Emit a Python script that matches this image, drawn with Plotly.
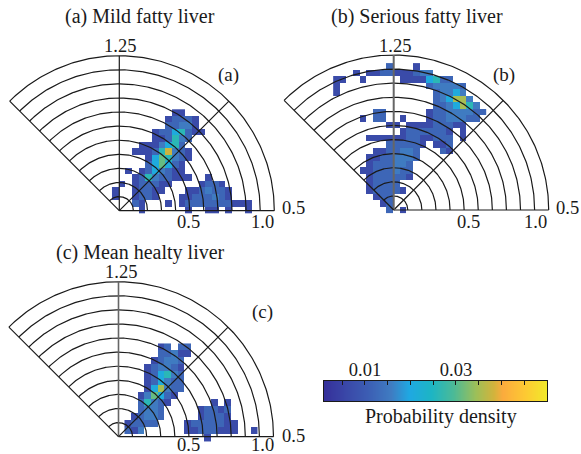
import numpy as np
import plotly.graph_objects as go

W, H = 581, 454
PX_PER_UNIT = 155 / 1.1
FONT = "Liberation Serif"
INK = "#1a1a1a"

# Density, as level digits; '.' = empty.
# row index -> (first column index, levels)
rows_a = {
    15: (8, "11"), 14: (7, "12221"), 13: (7, "22331"), 12: (5, "12245211"),
    11: (5, "112532"), 10: (3, "1113452"), 9: (2, "111258321"), 8: (4, "1465321"),
    7: (4, "246421"), 6: (1, "1.1243211"), 5: (2, "125322111..1"),
    4: (0, "1.122211....1221"), 3: (-1, "1..12211...1123221"),
    2: (-1, "1..1221...11222321"), 1: (2, "21...1.12222222111"),
    0: (3, "1......1..11.1..1"),
}
rows_b = {
    22: (-1, "2...1"), 21: (-6, "1.1122111233"), 20: (-9, "11..1.....11114522"),
    19: (-9, "1.............233332"), 18: (-9, "1..............23343"),
    17: (6, "234773"), 16: (6, "2234753"), 15: (-3, "22......122333322"),
    14: (-5, "1.22..1...12233322"), 13: (-1, "11.111122211"),
    12: (1, "12222221.1"), 11: (-4, "1111112211222.1"), 10: (-1, "222221.112"),
    9: (-3, "1122332...21"), 8: (-4, "11223332"), 7: (-4, "1222332"),
    6: (-5, "11222322"), 5: (-4, "1222221"), 4: (-4, "12222"), 3: (-4, "122221"),
    2: (-3, "122"), 1: (-2, "12"), 0: (-1, "2.1"),
}
rows_c = {
    13: (6, "12.22"), 12: (6, "22311"), 11: (5, "12332"), 10: (4, "123321"),
    9: (4, "124532"), 8: (4, "124322"), 7: (4, "147322"), 6: (3, "136421"),
    5: (3, "25321......1.1"), 4: (3, "2332.....12212"), 3: (2, "12332.....12221"),
    2: (1, "12222....12222211"), 1: (1, "213......11222111..1"), 0: (13, "1"),
}
# density for each level digit 0..8
level_values = [0.0, 0.0065, 0.012, 0.0155, 0.0205, 0.026, 0.031, 0.035, 0.0378]

arc_radii = [0.1 * i for i in range(1, 12)]
spoke_angles = [0, 45, 90, 135]
bar_ticks = [0.005, 0.01, 0.015, 0.02, 0.025, 0.03, 0.035, 0.04, 0.045]
bar_labels = ["", "0.01", "", "", "", "0.03", "", "", ""]
bar_min, bar_max = 0.001, 0.05

colorscale = [
    [0.00, "#35309a"], [0.10, "#3a48a8"], [0.20, "#3c5fb4"], [0.30, "#3f7cc2"],
    [0.38, "#1fa8e2"], [0.48, "#1db5c4"], [0.58, "#4cba96"], [0.68, "#9dbf58"],
    [0.76, "#d2b33c"], [0.80, "#fbab3d"], [0.90, "#fdc933"], [1.00, "#f1ea2a"],
]

# name, rows, origin px, x-cell px, y-cell px, column offset px, row offset px, vertical colour/width
panels = [
    ("", rows_a, (119.3, 210.7), 6.65, 6.5, -0.67, 0.65, INK, 1.2),
    ("2", rows_b, (393.7, 210.0), 6.65, 6.5, -0.67, 0.65, "#666666", 2.0),
    ("3", rows_c, (118.5, 436.7), 6.65, 6.97, -0.67, -0.85, "#666666", 1.6),
]

fig = go.Figure()
layout_axes = {}
for name, rows, (ox, oy), cw, ch, cx0, cy0, vcol, vw in panels:
    left, right, top, bottom = ox - 115, ox + 158, oy - 160, oy + 13
    layout_axes[f"xaxis{name}"] = dict(
        domain=[left / W, right / W], visible=False, fixedrange=True,
        range=[(left - ox) / PX_PER_UNIT, (right - ox) / PX_PER_UNIT])
    layout_axes[f"yaxis{name}"] = dict(
        domain=[1 - bottom / H, 1 - top / H], visible=False, fixedrange=True,
        range=[(oy - bottom) / PX_PER_UNIT, (oy - top) / PX_PER_UNIT])

    ks = list(range(min(rows), max(rows) + 1))
    jmin = min(s for s, _ in rows.values())
    jmax = max(s + len(t) for s, t in rows.values())
    js = list(range(jmin, jmax))
    z = [[None] * len(js) for _ in ks]
    for k, (start, text) in rows.items():
        for i, ch_ in enumerate(text):
            if ch_ != ".":
                z[k - ks[0]][start + i - jmin] = level_values[int(ch_)]
    xs = [((j + 0.5) * cw + cx0) / PX_PER_UNIT for j in js]
    ys = [(k * ch + cy0) / PX_PER_UNIT for k in ks]
    fig.add_trace(go.Heatmap(x=xs, y=ys, z=z, coloraxis="coloraxis", hoverongaps=False,
                             xaxis=f"x{name}", yaxis=f"y{name}"))

    # polar grid
    ax, ay = [], []
    th = np.radians(np.linspace(0, 135, 181))
    for r in arc_radii:
        ax += list(r * np.cos(th)) + [None]
        ay += list(r * np.sin(th)) + [None]
    fig.add_trace(go.Scatter(x=ax, y=ay, mode="lines", hoverinfo="skip",
                             line=dict(color=INK, width=1.2), xaxis=f"x{name}", yaxis=f"y{name}"))
    for deg in spoke_angles:
        rm = arc_radii[-1]
        t = np.radians(deg)
        col, wd = (vcol, vw) if deg == 90 else (INK, 1.2)
        fig.add_trace(go.Scatter(x=[0, rm * np.cos(t)], y=[0, rm * np.sin(t)], mode="lines",
                                 hoverinfo="skip", line=dict(color=col, width=wd),
                                 xaxis=f"x{name}", yaxis=f"y{name}"))

# colour bar: a key drawn on its own axis so ticks and labels can sit on top, as in the original
key_x = np.linspace(bar_min, bar_max, 224)
fig.add_trace(go.Heatmap(x=key_x, y=[0, 1], z=[key_x, key_x], coloraxis="coloraxis",
                         hoverinfo="skip", xaxis="x4", yaxis="y4"))
layout_axes["xaxis4"] = dict(
    domain=[324 / W, 547 / W], anchor="y4", side="top", range=[bar_min, bar_max], fixedrange=True,
    tickmode="array", tickvals=bar_ticks, ticktext=bar_labels, ticks="inside", ticklen=4,
    tickcolor=INK, tickwidth=1, tickfont=dict(family=FONT, size=18.5, color=INK),
    showline=True, linecolor=INK, linewidth=1, mirror=True, showgrid=False, zeroline=False,
    ticklabelstandoff=-3)
layout_axes["yaxis4"] = dict(
    domain=[1 - 401 / H, 1 - 381 / H], anchor="x4", range=[0, 1], fixedrange=True,
    showticklabels=False, ticks="", showline=True, linecolor=INK, linewidth=1, mirror=True,
    showgrid=False, zeroline=False)

texts = [
    ("(a) Mild fatty liver", 140, 17, 20), ("(b) Serious fatty liver", 417, 17, 20), ("(c) Mean healty liver", 140, 252, 20),
    ("(a)", 228, 75, 19), ("(b)", 504, 75, 19), ("(c)", 262, 312, 19),
    ("1.25", 120, 46, 18.5), ("1.25", 395, 46, 18.5), ("1.25", 121, 272, 18.5),
    ("0.5", 188, 222, 18.5), ("1.0", 262, 222, 18.5), ("0.5", 293, 208, 18.5),
    ("0.5", 468, 222, 18.5), ("1.0", 535, 222, 18.5), ("0.5", 567, 208, 18.5),
    ("0.5", 188, 445, 18.5), ("1.0", 262, 445, 18.5), ("0.5", 293, 436, 18.5),
    ("Probability density", 441, 416, 20),
]
annotations = [dict(text=t, x=x / W, y=1 - y / H, xref="paper", yref="paper", showarrow=False,
                    xanchor="center", yanchor="middle", font=dict(family=FONT, size=s, color=INK))
               for t, x, y, s in texts]

fig.update_layout(
    width=W, height=H, margin=dict(l=0, r=0, t=0, b=0), showlegend=False,
    paper_bgcolor="white", plot_bgcolor="white", annotations=annotations,
    coloraxis=dict(cmin=bar_min, cmax=bar_max, colorscale=colorscale, showscale=False),
    **layout_axes,
)
fig.write_html("out.html", config=dict(displayModeBar=False),
               post_script="document.body.style.margin='0';document.documentElement.style.overflow='hidden';")
